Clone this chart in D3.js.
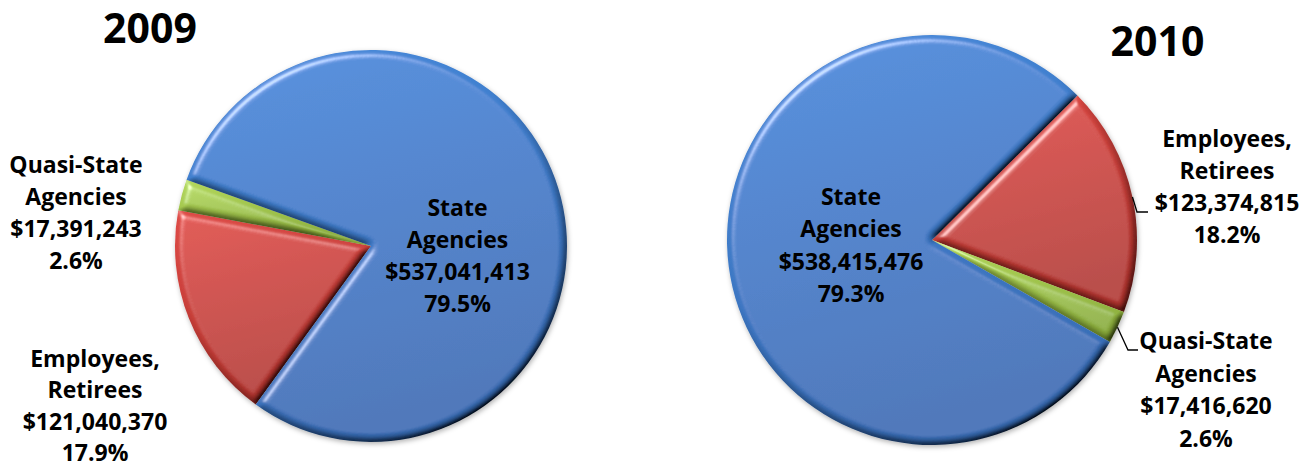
<!DOCTYPE html>
<html>
<head>
<meta charset="utf-8">
<script src="https://cdn.jsdelivr.net/npm/d3@7"></script>
<style>
  html, body { margin: 0; padding: 0; background: #fff; }
  svg { display: block; }
  text { font-family: 'Open Sans', sans-serif; font-weight: bold; fill: #000; }
</style>
</head>
<body>
<div id="main"></div>
<script>
// data
const categories = ['State Agencies', 'Employees, Retirees', 'Quasi-State Agencies'];
const labelNames = [['State', 'Agencies'], ['Employees,', 'Retirees'], ['Quasi-State', 'Agencies']];
const years = ['2009', '2010'];
const values2009 = [537041413, 121040370, 17391243];
const values2010 = [538415476, 123374815, 17416620];

// clockwise drawing order: Employees, Quasi-State, State
const sliceOrder = [1, 2, 0];
const sliceColors = [
  ['#4488da', '#386cb4'],
  ['#de4944', '#b3352f'],
  ['#b3d85a', '#8cae3c']
];

const W = 1316, H = 468;
const deg = Math.PI / 180;

const charts = [
  { year: years[0], values: values2009, cx: 371, cy: 246, r: 196, start: 216 * deg,
    title: [150, 43], lineGap: [32, 31.3, 32],
    labels: [[457.5, 216], [95, 367], [76, 173]],
    leaders: [null, null, null] },
  { year: years[1], values: values2010, cx: 932, cy: 240, r: 205, start: 45.2 * deg,
    title: [1157.5, 56], lineGap: [32.3, 32, 32.5],
    labels: [[851, 205], [1227, 147], [1206, 349]],
    leaders: [null, [1137, 212, 1148], [1128, 350, 1138]] }
];

const fmtMoney = d3.format('$,');
const fmtPct = d3.format('.1%');

const svg = d3.select('#main').append('svg')
  .attr('width', W)
  .attr('height', H);

const defs = svg.append('defs');

sliceColors.forEach((c, i) => {
  let g = defs.append('linearGradient')
    .attr('id', 'grad' + i)
    .attr('x1', 0).attr('y1', 0).attr('x2', 0.25).attr('y2', 1);
  g.append('stop').attr('offset', '0%').attr('stop-color', c[0]);
  g.append('stop').attr('offset', '100%').attr('stop-color', c[1]);
});

// bevel: diffuse shading on the blurred edges plus a specular rim
let bevel = defs.append('filter')
  .attr('id', 'bevel')
  .attr('x', '-5%').attr('y', '-5%').attr('width', '110%').attr('height', '110%');
bevel.append('feGaussianBlur')
  .attr('in', 'SourceAlpha').attr('stdDeviation', 3.5).attr('result', 'blur');
bevel.append('feDiffuseLighting')
  .attr('in', 'blur').attr('surfaceScale', 4).attr('diffuseConstant', 1.49)
  .attr('lighting-color', '#ffffff').attr('result', 'diff')
  .append('feDistantLight').attr('azimuth', 235).attr('elevation', 42);
bevel.append('feComposite')
  .attr('in', 'SourceGraphic').attr('in2', 'diff').attr('operator', 'arithmetic')
  .attr('k1', 1).attr('k2', 0).attr('k3', 0).attr('k4', 0).attr('result', 'shaded');
bevel.append('feSpecularLighting')
  .attr('in', 'blur').attr('surfaceScale', 5).attr('specularConstant', 1.1)
  .attr('specularExponent', 28).attr('lighting-color', '#ffffff').attr('result', 'spec')
  .append('feDistantLight').attr('azimuth', 235).attr('elevation', 42);
bevel.append('feComposite')
  .attr('in', 'spec').attr('in2', 'SourceAlpha').attr('operator', 'in').attr('result', 'specIn');
bevel.append('feComposite')
  .attr('in', 'shaded').attr('in2', 'specIn').attr('operator', 'arithmetic')
  .attr('k1', 0).attr('k2', 1).attr('k3', 0.5).attr('k4', 0);

let shadow = defs.append('filter')
  .attr('id', 'shadow')
  .attr('x', '-10%').attr('y', '-10%').attr('width', '120%').attr('height', '120%');
shadow.append('feDropShadow')
  .attr('dx', 1).attr('dy', 2).attr('stdDeviation', 2.5)
  .attr('flood-color', '#000').attr('flood-opacity', 0.3);

charts.forEach(ch => drawPie(ch));

function drawPie(ch) {
  let total = d3.sum(ch.values);
  let slices = sliceOrder.map(i => ({ idx: i, value: ch.values[i] }));

  let pie = d3.pie()
    .sort(null)
    .value(d => d.value)
    .startAngle(ch.start)
    .endAngle(ch.start + 2 * Math.PI);

  let arc = d3.arc().innerRadius(0).outerRadius(ch.r);

  let g = svg.append('g')
    .attr('transform', `translate(${ch.cx},${ch.cy})`);

  let pieG = g.append('g').attr('filter', 'url(#shadow)');

  pieG.selectAll('path.slice')
    .data(pie(slices))
    .enter()
    .append('path')
    .classed('slice', true)
    .attr('d', arc)
    .attr('fill', d => `url(#grad${d.data.idx})`)
    .attr('filter', 'url(#bevel)');

  // leader lines
  pie(slices).forEach(d => {
    let ld = ch.leaders[d.data.idx];
    if (!ld) return;
    let mid = (d.startAngle + d.endAngle) / 2;
    let x0 = Math.sin(mid) * ch.r, y0 = -Math.cos(mid) * ch.r;
    g.append('polyline')
      .attr('points', [[x0, y0], [ld[0] - ch.cx, ld[1] - ch.cy], [ld[2] - ch.cx, ld[1] - ch.cy]].map(p => p.join(',')).join(' '))
      .attr('fill', 'none')
      .attr('stroke', '#000')
      .attr('stroke-width', 1.3);
  });

  // labels
  categories.forEach((cat, i) => {
    let pos = ch.labels[i];
    let gap = ch.lineGap[i];
    let lines = labelNames[i].concat([fmtMoney(ch.values[i]), fmtPct(ch.values[i] / total)]);
    let t = svg.append('text')
      .attr('text-anchor', 'middle')
      .attr('font-size', 23)
      .attr('x', pos[0])
      .attr('y', pos[1]);
    t.selectAll('tspan')
      .data(lines)
      .enter()
      .append('tspan')
      .attr('x', pos[0])
      .attr('y', (d, j) => pos[1] + j * gap)
      .text(d => d);
  });

  svg.append('text')
    .attr('text-anchor', 'middle')
    .attr('font-size', 41)
    .attr('x', ch.title[0])
    .attr('y', ch.title[1])
    .text(ch.year);
}
</script>
</body>
</html>
